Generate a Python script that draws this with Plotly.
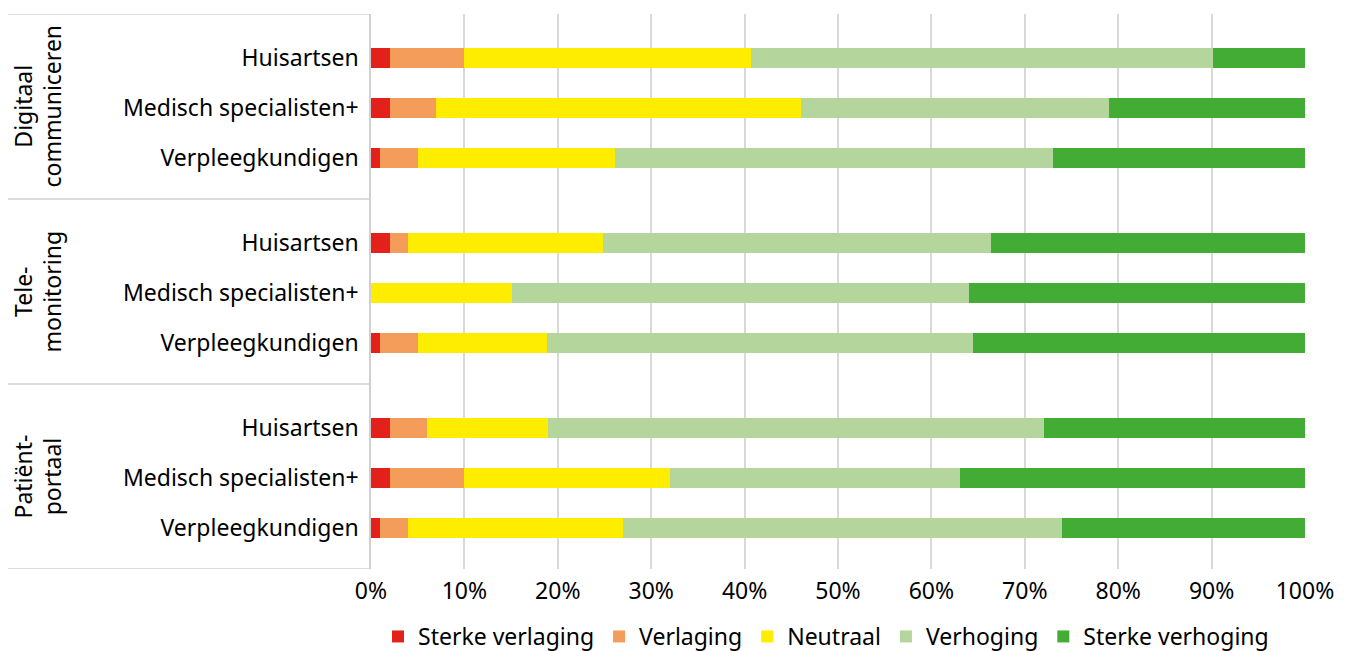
import plotly.graph_objects as go

groups = ["Digitaal<br>communiceren", "Tele-<br>monitoring", "Patiënt-<br>portaal"]
professions = ["Huisartsen", "Medisch specialisten+", "Verpleegkundigen"]
series_names = ["Sterke verlaging", "Verlaging", "Neutraal", "Verhoging", "Sterke verhoging"]
colors = ["#E3201A", "#F49C59", "#FFED00", "#B4D59C", "#43AC34"]

# values per row (group order, then profession order), in percent
sterke_verlaging = [2, 2, 1, 2, 0, 1, 2, 2, 1]
verlaging        = [8, 5, 4, 2, 0, 4, 4, 8, 3]
neutraal         = [30.7, 39, 21.1, 20.8, 15.1, 13.8, 13, 22, 23]
verhoging        = [49.5, 33, 46.9, 41.6, 48.9, 45.7, 53.1, 31.1, 47]
sterke_verhoging = [9.8, 21, 27, 33.6, 36, 35.5, 27.9, 36.9, 26]
series_values = [sterke_verlaging, verlaging, neutraal, verhoging, sterke_verhoging]

x_ticks = [i / 10 for i in range(11)]
x_ticktext = [f"{i*10}%" for i in range(11)]

GROUP_SPAN = 3.7
TOP_OFFSET = 0.88
ypos = [g * GROUP_SPAN + r for g in range(len(groups)) for r in range(len(professions))]
ylabels = [p for g in groups for p in professions]

FONT = "Noto Sans"
FS = 23
fig = go.Figure()
for name, vals, col in zip(series_names, series_values, colors):
    fig.add_trace(go.Bar(
        y=ypos, x=[v / 100 for v in vals], name=name, orientation="h",
        marker=dict(color=col, line=dict(width=0)), width=0.4,
        hoverinfo="skip",
    ))

y_top = -TOP_OFFSET
y_bottom = len(groups) * GROUP_SPAN - TOP_OFFSET
# page has 8px body margin; compensate
W, H = 1341, 660
ML, MT = 363, 6
plot_right = 1297
plot_bottom = 561.5
MR = W - plot_right
MB = H - plot_bottom
plot_w = plot_right - ML
left_paper = (0 - ML) / plot_w

shapes = []
for k in range(len(groups) + 1):
    yy = y_top + k * GROUP_SPAN
    shapes.append(dict(type="line", xref="paper", yref="y", x0=left_paper, x1=0,
                       y0=yy, y1=yy, line=dict(color="#D0D0D0", width=1.5)))

annotations = []
for g, gname in enumerate(groups):
    yc = y_top + (g + 0.5) * GROUP_SPAN
    annotations.append(dict(text=gname, xref="paper", yref="y", x=(29 - ML) / plot_w, y=yc,
                            textangle=-90, showarrow=False, xanchor="center", yanchor="middle",
                            font=dict(family=FONT, size=FS, color="#000000")))

fig.update_layout(
    barmode="stack",
    width=W, height=H,
    margin=dict(l=ML, r=MR, t=MT, b=MB, pad=0),
    plot_bgcolor="white", paper_bgcolor="white",
    font=dict(family=FONT, size=FS, color="#000000"),
    shapes=shapes, annotations=annotations,
    bargap=0,
    legend=dict(orientation="h", x=(818 - ML) / plot_w, xanchor="center",
                yref="container", y=(H - 650) / H, yanchor="bottom",
                font=dict(family=FONT, size=FS, color="#000000"), traceorder="normal",
                itemwidth=30, bgcolor="rgba(0,0,0,0)"),
    showlegend=True,
)
fig.update_xaxes(range=[0, 1], tickvals=x_ticks, ticktext=x_ticktext, showgrid=True,
                 gridcolor="#D9D9D9", gridwidth=1.5, zeroline=False, showline=False,
                 ticks="", ticklabelstandoff=6, tickfont=dict(family=FONT, size=FS), fixedrange=True,
                 automargin=False)
fig.update_yaxes(range=[y_bottom, y_top], tickvals=ypos, ticktext=ylabels, showgrid=False,
                 zeroline=False, showline=True, linecolor="#D0D0D0", linewidth=1.5,
                 ticks="", ticklabelstandoff=6, tickfont=dict(family=FONT, size=FS), fixedrange=True,
                 automargin=False)

fig.write_html(
    "out.html",
    post_script="document.documentElement.style.overflow='hidden';document.body.style.overflow='hidden';",
)
